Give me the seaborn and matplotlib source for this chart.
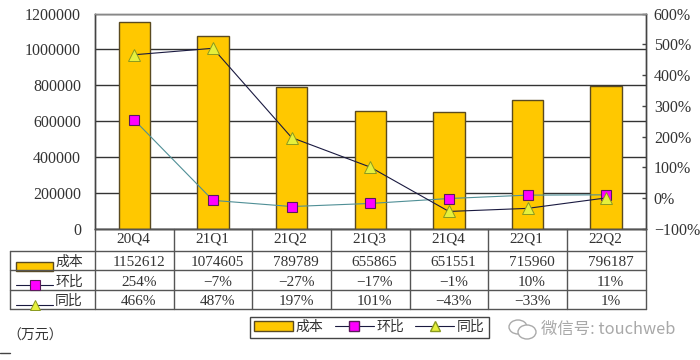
import pandas as pd
import matplotlib
matplotlib.use('Agg')
import matplotlib.pyplot as plt
import seaborn as sns
from matplotlib.lines import Line2D
from matplotlib.patches import Patch, Ellipse

quarters = ['20Q4', '21Q1', '21Q2', '21Q3', '21Q4', '22Q1', '22Q2']
cost = [1152612, 1074605, 789789, 655865, 651551, 715960, 796187]
qoq = [254, -7, -27, -17, -1, 10, 11]
yoy = [466, 487, 197, 101, -43, -33, 1]

BAR = '#ffc800'
BAR_EDGE = '#5a4a20'
QOQ_LINE = '#4f8f96'
YOY_LINE = '#1a1a40'
MAGENTA = '#ff00ff'
YELLOW = '#e6f03c'
TEXT = '#333333'
GRID = '#333333'

sns.set_style('white')
plt.rcParams['font.family'] = ['Liberation Serif', 'Noto Sans CJK SC', 'DejaVu Sans']
plt.rcParams['axes.unicode_minus'] = False

df = pd.DataFrame({'quarter': quarters, 'cost': cost, 'qoq': qoq, 'yoy': yoy})

W, H = 700, 360
fig = plt.figure(figsize=(7, 3.6), dpi=100)
left, right, top, bottom = 95, 645.5, 13.5, 229
ax = fig.add_axes([left / W, 1 - bottom / H, (right - left) / W, (bottom - top) / H])

sns.barplot(data=df, x='quarter', y='cost', color=BAR, width=0.4, saturation=1,
            edgecolor=BAR_EDGE, linewidth=1, ax=ax, zorder=3)
ax.set_ylim(0, 1200000)
ax.set_xlim(-0.5, 6.5)
ticks_left = list(range(0, 1200001, 200000))
ax.set_yticks(ticks_left)
ax.set_yticklabels([str(v) for v in ticks_left])
ax.set_xlabel('')
ax.set_ylabel('')
ax.set_xticks([])
ax.yaxis.grid(True, color=GRID, linewidth=1)
ax.set_axisbelow(True)
ax.tick_params(axis='y', length=0, labelsize=11.5, labelcolor=TEXT, pad=10)

ax2 = ax.twinx()
sns.lineplot(data=df, x='quarter', y='qoq', sort=False, color=QOQ_LINE, linewidth=0.8,
             marker='s', markersize=7.5, markerfacecolor=MAGENTA, markeredgecolor='#5a1a5a',
             markeredgewidth=0.8, ax=ax2, zorder=5)
sns.lineplot(data=df, x='quarter', y='yoy', sort=False, color=YOY_LINE, linewidth=0.8,
             marker='^', markersize=8, markerfacecolor=YELLOW, markeredgecolor='#8a9a20',
             markeredgewidth=0.7, ax=ax2, zorder=6)
ax2.set_ylim(-100, 600)
ax2.set_xlim(-0.5, 6.5)
ax2.set_yticks(range(-100, 601, 100))
ax2.set_yticklabels(['\u2212100%' if v < 0 else f'{v}%' for v in range(-100, 601, 100)])
ax2.set_ylabel('')
ax2.set_xlabel('')
ax2.tick_params(axis='y', direction='in', length=3, width=1, color='#444444',
                labelsize=11.5, labelcolor=TEXT, pad=6)

for a in (ax, ax2):
    for s in a.spines.values():
        s.set_visible(True)
        s.set_color('#444444')
        s.set_linewidth(1)
ax.spines['top'].set_color('#888888')
ax2.spines['top'].set_color('#888888')

# data table under the plot, in pixel positions
row_y = [229, 251, 270, 290, 309]
tab_left = 10
col_w = (right - left) / 7


def hline(y, x0, x1):
    fig.add_artist(Line2D([x0 / W, x1 / W], [1 - y / H, 1 - y / H], color='#555555', lw=1))


def vline(x, y0, y1):
    fig.add_artist(Line2D([x / W, x / W], [1 - y0 / H, 1 - y1 / H], color='#555555', lw=1))


hline(row_y[0], left, right)
for y in row_y[1:]:
    hline(y, tab_left, right)
vline(tab_left, row_y[1], row_y[4])
for i in range(8):
    vline(left + i * col_w, row_y[0], row_y[4])

rows = [quarters, [str(v) for v in cost],
        [f'{v}%'.replace('-', '\u2212') for v in qoq],
        [f'{v}%'.replace('-', '\u2212') for v in yoy]]
for r, vals in enumerate(rows):
    ymid = (row_y[r] + row_y[r + 1]) / 2 + (2 if r else -1)
    shift = 4.5 if r else -1
    for i, txt in enumerate(vals):
        fig.text((left + (i + 0.5) * col_w + shift) / W, 1 - ymid / H, txt, ha='center', va='center',
                 fontsize=11, color=TEXT)

# row labels with legend keys
names = ['成本', '环比', '同比']
for r, name in enumerate(names):
    ymid = (row_y[r + 1] + row_y[r + 2]) / 2 + 2
    fig.text(55 / W, 1 - ymid / H, name, ha='left', va='center', fontsize=10, color=TEXT)
fig.add_artist(plt.Rectangle((16 / W, 1 - 271 / H), 37 / W, 9.5 / H, facecolor=BAR, edgecolor=BAR_EDGE, lw=1))
fig.add_artist(Line2D([16 / W, 53 / W], [1 - 285 / H] * 2, color=YOY_LINE, lw=0.8))
fig.add_artist(Line2D([34.5 / W], [1 - 285 / H], marker='s', ms=7.5, mfc=MAGENTA, mec='#5a1a5a', mew=0.8))
fig.add_artist(Line2D([16 / W, 53 / W], [1 - 305 / H] * 2, color=YOY_LINE, lw=0.8))
fig.add_artist(Line2D([34.5 / W], [1 - 305 / H], marker='^', ms=7, mfc=YELLOW, mec='#8a9a20', mew=0.7))

handles = [Patch(facecolor=BAR, edgecolor=BAR_EDGE, label='成本'),
           Line2D([], [], color=YOY_LINE, lw=0.8, marker='s', ms=7.5, mfc=MAGENTA, mec='#5a1a5a', label='环比'),
           Line2D([], [], color=YOY_LINE, lw=0.8, marker='^', ms=7, mfc=YELLOW, mec='#8a9a20', label='同比')]
leg = fig.legend(handles=handles, ncol=3, loc='center', bbox_to_anchor=(369.5 / W, 1 - 327.5 / H),
                 fontsize=10, frameon=True, fancybox=False, edgecolor='#444444', framealpha=1,
                 handlelength=2.8, columnspacing=0.8, handletextpad=0.2, borderpad=0.3, labelcolor=TEXT)

fig.text(7 / W, 1 - 336 / H, '（万元）', ha='left', va='center', fontsize=10, color=TEXT)
fig.add_artist(Line2D([0, 10 / W], [1 - 353 / H] * 2, color='#444444', lw=1))

# watermark
fig.add_artist(Ellipse((518 / W, 1 - 327 / H), 18 / W, 14 / H, fill=False, ec='#aaaaaa', lw=1))
fig.add_artist(Ellipse((527 / W, 1 - 332 / H), 18 / W, 14 / H, facecolor='white', ec='#aaaaaa', lw=1))
fig.text(541 / W, 1 - 329 / H, '微信号: touchweb', ha='left', va='center', fontsize=11.8,
         color='#a8a8a8', family=['Noto Sans CJK SC', 'DejaVu Sans'])

plt.savefig('out.png', dpi=100)
